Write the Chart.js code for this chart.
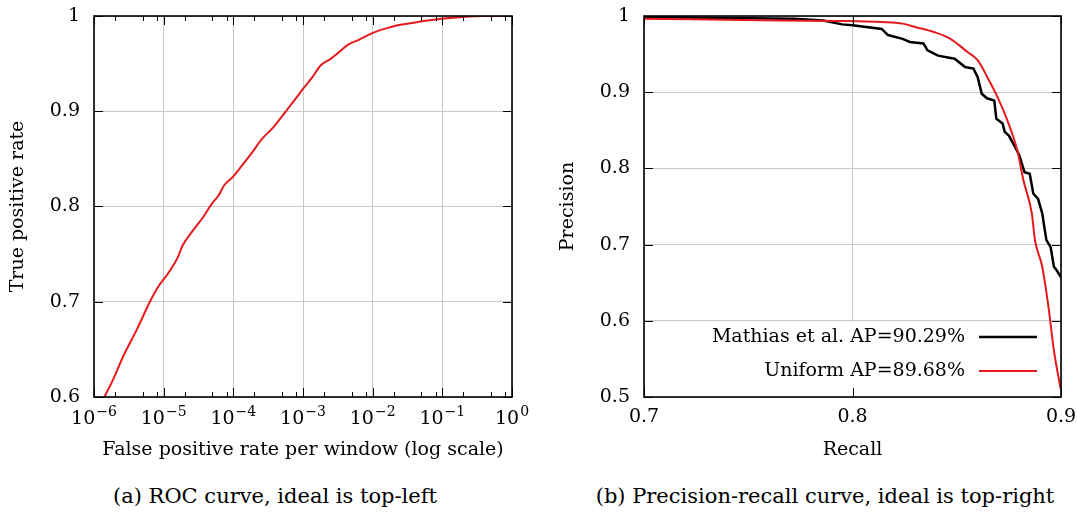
<!DOCTYPE html>
<html>
<head>
<meta charset="utf-8">
<script src="https://cdn.jsdelivr.net/npm/chart.js@4.4.1/dist/chart.umd.min.js"></script>
<style>
  body { margin: 0; background: #fff; width: 1077px; height: 514px; position: relative; overflow: hidden; }
  canvas { position: absolute; top: 0; }
  #roc { left: 0; }
  #pr { left: 540px; }
  .caption { position: absolute; top: 484px; font: 21px 'DejaVu Serif'; color: #000; white-space: nowrap; transform: translateX(-50%); }
</style>
</head>
<body>
<canvas id="roc" width="540" height="470"></canvas>
<canvas id="pr" width="537" height="470"></canvas>
<div class="caption" style="left:275px">(a) ROC curve, ideal is top-left</div>
<div class="caption" style="left:825px">(b) Precision-recall curve, ideal is top-right</div>
<script>
// ROC curve (left)
const rocFpr = [1.41e-6, 1.9e-6, 2.6e-6, 4.2e-6, 6.34e-6, 8.4e-6, 1.19e-5, 1.58e-5, 1.87e-5, 2.64e-5,
  3.7e-5, 4.93e-5, 6.2e-5, 7.35e-5, 9.8e-5, 1.30e-4, 1.83e-4, 2.58e-4, 3.62e-4, 4.8e-4,
  6.41e-4, 8.0e-4, 1.01e-3, 1.34e-3, 1.79e-3, 2.5e-3, 3.16e-3, 4.45e-3, 6.3e-3, 9.9e-3,
  1.56e-2, 2.20e-2, 3.9e-2, 9.7e-2, 0.214, 0.38, 1]
const rocTpr = [0.600, 0.619, 0.642, 0.672, 0.700, 0.716, 0.731, 0.746, 0.759, 0.775,
  0.789, 0.803, 0.812, 0.822, 0.831, 0.842, 0.856, 0.871, 0.882, 0.893,
  0.905, 0.914, 0.924, 0.935, 0.948, 0.955, 0.961, 0.970, 0.975, 0.982,
  0.987, 0.990, 0.993, 0.997, 0.9993, 1.0, 1.0]
const rocDecades = [1e-6, 1e-5, 1e-4, 1e-3, 1e-2, 1e-1, 1]
const rocYTicks = [0.6, 0.7, 0.8, 0.9, 1]

// Precision-recall (right)
const mathiasRecall = [0.700, 0.772, 0.786, 0.795, 0.800, 0.814, 0.817, 0.824, 0.8275, 0.834, 0.836, 0.841,
  0.849, 0.854, 0.858, 0.860, 0.862, 0.8645, 0.868, 0.869, 0.872, 0.873, 0.875, 0.878, 0.880, 0.8825,
  0.885, 0.8867, 0.889, 0.891, 0.892, 0.893, 0.895, 0.8966, 0.898, 0.900]
const mathiasPrecision = [0.9987, 0.9965, 0.994, 0.989, 0.988, 0.983, 0.975, 0.970, 0.966, 0.964, 0.955, 0.948,
  0.944, 0.933, 0.931, 0.920, 0.898, 0.892, 0.889, 0.865, 0.859, 0.848, 0.843, 0.828, 0.817, 0.795,
  0.793, 0.767, 0.760, 0.741, 0.723, 0.706, 0.697, 0.671, 0.666, 0.657]
const uniformRecall = [0.700, 0.765, 0.798, 0.814, 0.824, 0.830, 0.839, 0.847, 0.855, 0.860, 0.865, 0.870,
  0.874, 0.879, 0.882, 0.886, 0.8875, 0.891, 0.894, 0.8966, 0.8998]
const uniformPrecision = [0.9965, 0.994, 0.9934, 0.992, 0.990, 0.9856, 0.979, 0.970, 0.953, 0.942, 0.918, 0.891,
  0.865, 0.824, 0.784, 0.741, 0.706, 0.671, 0.618, 0.561, 0.511]
const prXTicks = [0.7, 0.8, 0.9]
const prYTicks = [0.5, 0.6, 0.7, 0.8, 0.9, 1]

const red = '#e41a1c'
const serif = "'DejaVu Serif'"
Chart.defaults.font.family = serif
Chart.defaults.color = '#000'

const pts = (xs, ys) => xs.map((x, i) => ({ x: x, y: ys[i] }))
const fmt = v => String(+Number(v).toFixed(1))

// box round the plot plus small inward tick marks on all four sides
const frame = {
    id: 'frame',
    afterDraw(chart, args, opts) {
        const { ctx, chartArea: a, scales: { x, y } } = chart
        ctx.save()
        ctx.strokeStyle = '#000'
        ctx.lineWidth = 1
        ctx.beginPath()
        const vtick = (v, len) => {
            const px = Math.round(x.getPixelForValue(v)) + 0.5
            ctx.moveTo(px, a.bottom); ctx.lineTo(px, a.bottom - len)
            ctx.moveTo(px, a.top); ctx.lineTo(px, a.top + len)
        }
        x.ticks.forEach(t => vtick(t.value, 9))
        if (opts.minor) {
            opts.minor.forEach(v => vtick(v, 5))
        }
        y.ticks.forEach(t => {
            const py = Math.round(y.getPixelForValue(t.value)) + 0.5
            ctx.moveTo(a.left, py); ctx.lineTo(a.left + 9, py)
            ctx.moveTo(a.right, py); ctx.lineTo(a.right - 9, py)
        })
        ctx.stroke()
        ctx.lineWidth = 1.6
        ctx.strokeRect(a.left, a.top, a.width, a.height)
        ctx.restore()
    }
}

// 10^n labels under the log axis, exponent raised and smaller
const powerLabels = {
    id: 'powerLabels',
    afterDraw(chart) {
        const { ctx, chartArea: a, scales: { x } } = chart
        ctx.save()
        ctx.fillStyle = '#000'
        ctx.textBaseline = 'alphabetic'
        ctx.textAlign = 'left'
        x.ticks.forEach(t => {
            const e = Math.round(Math.log10(t.value))
            const base = '10'
            const exp = String(e).replace('-', '\u2212')
            ctx.font = '19px ' + serif
            const wb = ctx.measureText(base).width
            ctx.font = '14px ' + serif
            const we = ctx.measureText(exp).width
            const px = x.getPixelForValue(t.value)
            const left = px - (wb + we + 1) / 2
            const baseY = a.bottom + 27
            ctx.font = '19px ' + serif
            ctx.fillText(base, left, baseY)
            ctx.font = '14px ' + serif
            ctx.fillText(exp, left + wb + 1, baseY - 8)
        })
        ctx.restore()
    }
}

// legend in the lower right, text to the left of the line sample
const inlineLegend = {
    id: 'inlineLegend',
    beforeDatasetsDraw(chart, args, opts) {
        if (!opts.show) return
        const { ctx, chartArea: a, scales: { y } } = chart
        ctx.save()
        ctx.fillStyle = '#fff'
        const top = y.getPixelForValue(0.6) + 1
        ctx.fillRect(opts.boxLeft, top, opts.boxRight - opts.boxLeft, a.bottom - top - 1)
        ctx.restore()
    },
    afterDatasetsDraw(chart, args, opts) {
        if (!opts.show) return
        const ctx = chart.ctx
        ctx.save()
        ctx.font = '19px ' + serif
        ctx.textAlign = 'right'
        ctx.textBaseline = 'middle'
        chart.data.datasets.forEach((ds, i) => {
            const yy = opts.top + i * opts.gap
            ctx.fillStyle = '#000'
            ctx.fillText(ds.label, opts.textRight, yy)
            ctx.strokeStyle = ds.borderColor
            ctx.lineWidth = ds.borderWidth
            ctx.beginPath()
            ctx.moveTo(opts.lineFrom, yy)
            ctx.lineTo(opts.lineTo, yy)
            ctx.stroke()
        })
        ctx.restore()
    }
}

const minorTicks = []
rocDecades.slice(0, -1).forEach(d => [2, 5, 8].forEach(k => minorTicks.push(k * d)))

const noTickMark = 'rgba(0,0,0,0)'

new Chart(document.getElementById('roc'), {
    type: 'line',
    data: {
        datasets: [{
            label: 'ROC',
            data: pts(rocFpr, rocTpr),
            borderColor: red,
            borderWidth: 2,
            pointRadius: 0,
            cubicInterpolationMode: 'monotone'
        }]
    },
    options: {
        responsive: false,
        animation: false,
        layout: { padding: { left: 0, right: 28, top: 16, bottom: 0 } },
        plugins: { legend: { display: false }, tooltip: { enabled: false }, frame: { minor: minorTicks } },
        scales: {
            x: {
                type: 'logarithmic',
                min: 1e-6,
                max: 1,
                afterBuildTicks: s => { s.ticks = rocDecades.map(v => ({ value: v })) },
                afterFit: s => { s.height = 73 },
                grid: { color: '#c8c8c8', drawTicks: false },
                border: { display: false },
                ticks: { display: false, autoSkip: false, maxRotation: 0 },
                title: { display: true, text: 'False positive rate per window (log scale)', font: { size: 19 }, padding: { top: 0, bottom: 8.6 } }
            },
            y: {
                min: 0.6,
                max: 1,
                afterBuildTicks: s => { s.ticks = rocYTicks.map(v => ({ value: v })) },
                afterFit: s => { s.width = 94 },
                grid: { color: '#c8c8c8', drawTicks: true, tickLength: 14, tickColor: noTickMark },
                border: { display: false },
                ticks: { font: { size: 19 }, padding: 0, callback: fmt },
                title: { display: true, text: 'True positive rate', font: { size: 19 }, padding: { top: 7, bottom: 0 } }
            }
        }
    },
    plugins: [frame, powerLabels]
})

new Chart(document.getElementById('pr'), {
    type: 'line',
    data: {
        datasets: [{
            label: 'Mathias et al. AP=90.29%',
            data: pts(mathiasRecall, mathiasPrecision),
            borderColor: '#000',
            borderWidth: 2.5,
            pointRadius: 0,
            tension: 0,
            order: 1
        }, {
            label: 'Uniform AP=89.68%',
            data: pts(uniformRecall, uniformPrecision),
            borderColor: red,
            borderWidth: 2,
            pointRadius: 0,
            cubicInterpolationMode: 'monotone',
            order: 0
        }]
    },
    options: {
        responsive: false,
        animation: false,
        layout: { padding: { left: 0, right: 16, top: 16, bottom: 0 } },
        plugins: {
            legend: { display: false },
            tooltip: { enabled: false },
            frame: {},
            inlineLegend: { show: true, boxLeft: 170, boxRight: 505, textRight: 425, lineFrom: 439, lineTo: 497, top: 337, gap: 34 }
        },
        scales: {
            x: {
                type: 'linear',
                min: 0.7,
                max: 0.9,
                afterBuildTicks: s => { s.ticks = prXTicks.map(v => ({ value: v })) },
                afterFit: s => { s.height = 73 },
                grid: { color: '#c8c8c8', drawTicks: true, tickLength: 9, tickColor: noTickMark },
                border: { display: false },
                ticks: { font: { size: 19 }, padding: 0, autoSkip: false, maxRotation: 0, callback: fmt },
                title: { display: true, text: 'Recall', font: { size: 19 }, padding: { top: 0, bottom: 8.6 } }
            },
            y: {
                min: 0.5,
                max: 1,
                afterBuildTicks: s => { s.ticks = prYTicks.map(v => ({ value: v })) },
                afterFit: s => { s.width = 104 },
                grid: { color: '#c8c8c8', drawTicks: true, tickLength: 14, tickColor: noTickMark },
                border: { display: false },
                ticks: { font: { size: 19 }, padding: 0, callback: fmt },
                title: { display: true, text: 'Precision', font: { size: 19 }, padding: { top: 16.6, bottom: 0 } }
            }
        }
    },
    plugins: [frame, inlineLegend]
})
</script>
</body>
</html>
